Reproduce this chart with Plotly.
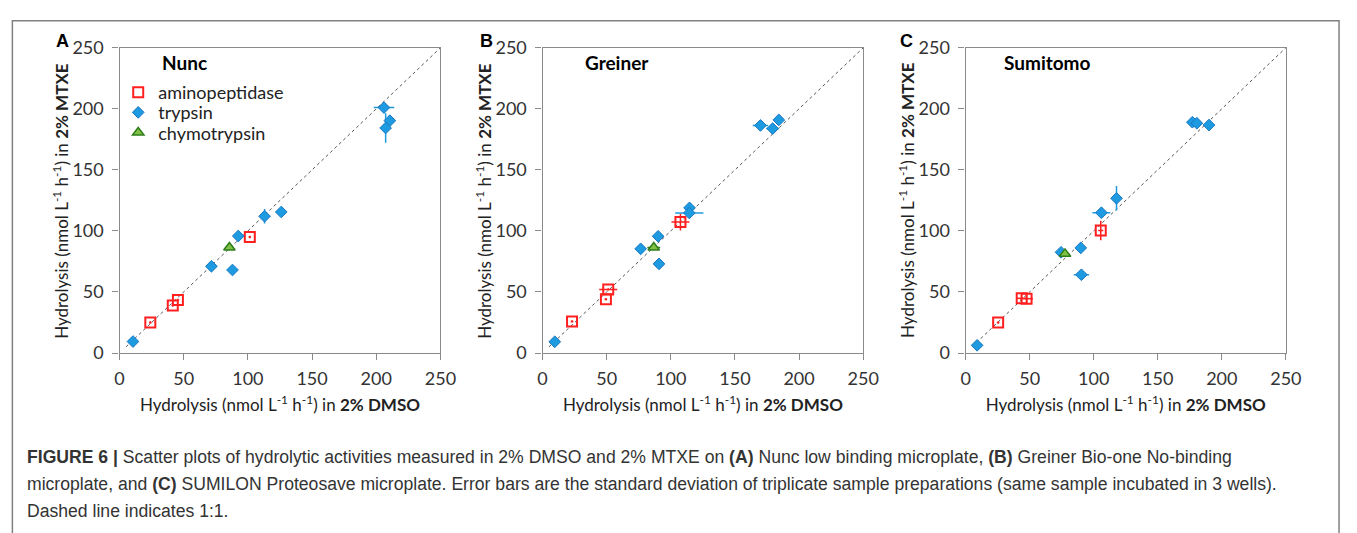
import plotly.graph_objects as go

W, H = 1357, 533


def px(x):
    return x / W


def py(y):
    return 1 - y / H


# ---------------- data ----------------
panels = ["A", "B", "C"]
plate_names = ["Nunc", "Greiner", "Sumitomo"]

A_amino_x = [24.0, 41.5, 45.5, 101.5]
A_amino_y = [25.0, 39.0, 43.5, 95.0]
A_amino_xerr = [1, 1, 1, 1]
A_amino_yerr = [1, 1, 1, 1]
A_tryp_x = [10.5, 71.6, 88.0, 92.5, 113.0, 126.0, 206.0, 210.6, 207.3]
A_tryp_y = [9.4, 71.0, 68.0, 95.8, 112.0, 115.5, 201.0, 190.3, 184.3]
A_tryp_xerr = [1, 1, 1, 1, 1, 1, 8, 2, 1]
A_tryp_yerr = [1, 1, 1, 1, 6, 1, 2, 2, 12]
A_chymo_x = [85.6]
A_chymo_y = [86.4]
A_chymo_xerr = [1]
A_chymo_yerr = [1]

B_amino_x = [23.0, 49.4, 51.2, 107.5]
B_amino_y = [25.9, 44.0, 52.1, 107.3]
B_amino_xerr = [1, 1, 7, 7]
B_amino_yerr = [1, 1, 1, 7]
B_tryp_x = [9.5, 76.5, 90.1, 90.8, 114.6, 114.4, 169.9, 179.4, 184.2]
B_tryp_y = [9.2, 85.3, 95.6, 73.0, 118.9, 114.7, 186.4, 183.8, 190.9]
B_tryp_xerr = [1, 1, 1, 1, 1, 11, 6, 5, 1]
B_tryp_yerr = [1, 1, 1, 1, 1, 1, 4, 1, 1]
B_chymo_x = [86.7]
B_chymo_y = [86.4]
B_chymo_xerr = [5]
B_chymo_yerr = [1]

C_amino_x = [25.4, 43.8, 47.6, 105.5]
C_amino_y = [24.9, 44.8, 44.5, 100.3]
C_amino_xerr = [1, 4, 5, 2]
C_amino_yerr = [1, 1, 1, 8]
C_tryp_x = [9.0, 74.5, 89.9, 90.4, 106.0, 117.8, 177.0, 180.5, 190.0]
C_tryp_y = [6.3, 82.5, 86.1, 64.1, 114.9, 126.7, 189.0, 188.2, 186.7]
C_tryp_xerr = [1, 1, 1, 6, 7, 1, 1, 1, 1]
C_tryp_yerr = [1, 1, 1, 1, 1, 10, 1, 1, 1]
C_chymo_x = [77.6]
C_chymo_y = [81.2]
C_chymo_xerr = [3]
C_chymo_yerr = [1]

one_to_one = [5, 250]
tick_vals = [0, 50, 100, 150, 200, 250]

x_title = "Hydrolysis (nmol L<sup>-1</sup> h<sup>-1</sup>) in <b>2% DMSO</b>"
y_title = "Hydrolysis (nmol L<sup>-1</sup> h<sup>-1</sup>) in <b>2% MTXE</b>"

caption_lines = [
    "<b>FIGURE 6 |</b> Scatter plots of hydrolytic activities measured in 2% DMSO and 2% MTXE on <b>(A)</b> Nunc low binding microplate, <b>(B)</b> Greiner Bio-one No-binding",
    "microplate, and <b>(C)</b> SUMILON Proteosave microplate. Error bars are the standard deviation of triplicate sample preparations (same sample incubated in 3 wells).",
    "Dashed line indicates 1:1.",
]

data = {
    "A": dict(amino=(A_amino_x, A_amino_y, A_amino_xerr, A_amino_yerr),
              tryp=(A_tryp_x, A_tryp_y, A_tryp_xerr, A_tryp_yerr),
              chymo=(A_chymo_x, A_chymo_y, A_chymo_xerr, A_chymo_yerr)),
    "B": dict(amino=(B_amino_x, B_amino_y, B_amino_xerr, B_amino_yerr),
              tryp=(B_tryp_x, B_tryp_y, B_tryp_xerr, B_tryp_yerr),
              chymo=(B_chymo_x, B_chymo_y, B_chymo_xerr, B_chymo_yerr)),
    "C": dict(amino=(C_amino_x, C_amino_y, C_amino_xerr, C_amino_yerr),
              tryp=(C_tryp_x, C_tryp_y, C_tryp_xerr, C_tryp_yerr),
              chymo=(C_chymo_x, C_chymo_y, C_chymo_xerr, C_chymo_yerr)),
}

# ---------------- styling ----------------
FONT = "Lato, 'Open Sans', sans-serif"
CAP_FONT = "'Liberation Sans', Arial, sans-serif"
BLUE = "#1e9be0"
BLUE_EDGE = "#1a78c2"
RED = "#ff1f1f"
GREEN = "#80c145"
GREEN_EDGE = "#2f7d1a"
AXIS = "#8a8a8a"

# plot areas in pixels
x_domains = [(116.3, 442.3), (546.0, 871.7), (975.7, 1301.0)]
y_top, y_bot = 37.3, 355.7

series_style = {
    "amino": dict(name="aminopeptidase", legend="legend",
                  marker=dict(symbol="square-open", size=10, color=RED, line=dict(width=2, color=RED)),
                  ecolor=RED),
    "tryp": dict(name="trypsin", legend="legend2",
                 marker=dict(symbol="diamond", size=9, color=BLUE, line=dict(width=1, color=BLUE_EDGE)),
                 ecolor=BLUE),
    "chymo": dict(name="chymotrypsin", legend="legend3",
                  marker=dict(symbol="triangle-up", size=10, color=GREEN, line=dict(width=1.5, color=GREEN_EDGE)),
                  ecolor=GREEN_EDGE),
}

fig = go.Figure()

for i, p in enumerate(panels):
    xa = "x" if i == 0 else f"x{i+1}"
    ya = "y" if i == 0 else f"y{i+1}"
    fig.add_trace(go.Scatter(x=one_to_one, y=one_to_one, mode="lines",
                             line=dict(color="#555555", width=1, dash="dot"),
                             showlegend=False, hoverinfo="skip", xaxis=xa, yaxis=ya))
    for key in ["amino", "tryp", "chymo"]:
        xs, ys, xe, ye = data[p][key]
        st = series_style[key]
        fig.add_trace(go.Scatter(
            x=xs, y=ys, mode="markers", name=st["name"], legend=st["legend"],
            marker=st["marker"],
            error_x=dict(type="data", array=xe, color=st["ecolor"], thickness=1.5, width=0),
            error_y=dict(type="data", array=ye, color=st["ecolor"], thickness=1.5, width=0),
            showlegend=(i == 0), xaxis=xa, yaxis=ya))

axis_common = dict(range=[0, 250], tickvals=tick_vals, showgrid=False, zeroline=False,
                   showline=True, linecolor=AXIS, linewidth=1.3, mirror=True,
                   ticks="outside", ticklen=6, tickcolor=AXIS, tickwidth=1.3,
                   tickfont=dict(family=FONT, size=18, color="#333333"))

layout_axes = {}
for i, (x0, x1) in enumerate(x_domains):
    sx = "" if i == 0 else str(i + 1)
    layout_axes[f"xaxis{sx}"] = dict(
        axis_common, domain=[px(x0), px(x1)], anchor=f"y{sx}", ticklabelstandoff=3,
        title=dict(text=x_title, font=dict(family=FONT, size=17, color="#222222"), standoff=11))
    layout_axes[f"yaxis{sx}"] = dict(
        axis_common, domain=[py(y_bot), py(y_top)], anchor=f"x{sx}", ticklabelstandoff=5)

annotations = []
letter_x = [58, 489, 916]
title_x = [157, 587, 1013]
for i in range(3):
    annotations.append(dict(text=f"<b>{panels[i]}</b>", x=px(letter_x[i]), y=py(30),
                            xref="paper", yref="paper", xanchor="center", yanchor="middle",
                            showarrow=False,
                            font=dict(family="'Liberation Sans', Arial", size=18, color="#000000")))
    annotations.append(dict(text=f"<b>{plate_names[i]}</b>", x=px(title_x[i]), y=py(53),
                            xref="paper", yref="paper", xanchor="left", yanchor="middle",
                            showarrow=False,
                            font=dict(family=FONT, size=19, color="#000000")))
    # y-axis title, centred 60 px left of the plot area
    annotations.append(dict(text=y_title, textangle=-90,
                            x=px(x_domains[i][0] - 60), y=py((y_top + y_bot) / 2),
                            xref="paper", yref="paper", xanchor="center", yanchor="middle",
                            showarrow=False,
                            font=dict(family=FONT, size=17, color="#222222")))

cap_y = [464, 492, 520]
for line, cy in zip(caption_lines, cap_y):
    annotations.append(dict(text=line, x=px(20), y=py(cy), xref="paper", yref="paper",
                            xanchor="left", yanchor="middle", showarrow=False,
                            font=dict(family=CAP_FONT, size=17.6, color="#333333")))

shapes = [dict(type="rect", xref="paper", yref="paper",
               x0=px(7.5), x1=px(1355), y0=-0.05, y1=py(9),
               line=dict(color="#808080", width=1.5), fillcolor="rgba(0,0,0,0)", layer="below")]

leg_common = dict(xanchor="left", yanchor="middle", bgcolor="rgba(0,0,0,0)",
                  font=dict(family=FONT, size=18, color="#222222"), borderwidth=0)
leg_x = px(115)
fig.update_layout(
    width=W, height=H, margin=dict(l=0, r=0, t=0, b=0), autosize=False,
    paper_bgcolor="white", plot_bgcolor="white",
    annotations=annotations, shapes=shapes,
    legend=dict(leg_common, x=leg_x, y=py(84)),
    legend2=dict(leg_common, x=leg_x, y=py(105)),
    legend3=dict(leg_common, x=leg_x, y=py(126)),
    **layout_axes,
)

fig.write_html("out.html")
